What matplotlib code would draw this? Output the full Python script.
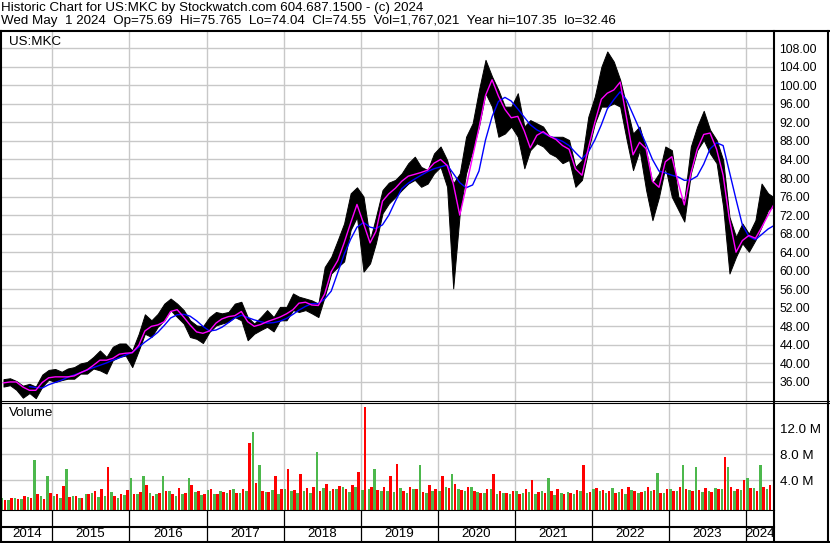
import matplotlib
matplotlib.use('Agg')
import matplotlib.pyplot as plt
import numpy as np
import pandas as pd

plt.rcParams['font.family'] = ['Liberation Sans', 'DejaVu Sans']

W, H = 830, 543
FS = 8.8
FS_TITLE = 9.6

# monthly data, May 2014 .. May 2024 (last entry is the single day May 1 2024)
month_start = pd.date_range('2014-05-01', '2024-05-01', freq='MS')

price_lo = [
    35.0, 35.3, 34.3, 32.6, 33.6, 32.5, 35.0, 36.5,
    36.0, 36.4, 36.7, 36.7, 37.8, 37.8, 38.9, 38.5, 37.8, 40.7, 41.4, 41.7,
    39.2, 42.8, 46.4, 45.7, 47.9, 49.3, 51.5, 50.0, 48.6, 45.7, 45.3, 44.4,
    46.8, 48.2, 48.6, 49.0, 50.0, 49.3, 45.0, 46.4, 47.2, 47.9, 46.9, 49.3,
    49.3, 51.5, 51.1, 51.5, 50.8, 50.0, 54.4, 59.4, 60.8, 62.0, 68.8, 71.6,
    59.8, 61.6, 66.0, 72.4, 74.5, 75.9, 77.4, 78.8, 79.6, 78.1, 78.8, 81.0,
    82.4, 78.1, 56.2, 72.4, 81.0, 86.0, 91.1, 98.3, 95.4, 88.9, 89.6, 91.1,
    88.9, 82.1, 86.0, 87.5, 86.8, 85.3, 84.6, 83.2, 83.9, 78.1, 79.6, 86.0,
    91.8, 95.4, 95.4, 96.1, 95.4, 88.2, 81.7, 86.0, 77.4, 70.9, 75.9, 82.4,
    75.9, 73.1, 70.6, 81.0, 86.0, 88.2, 85.3, 83.2, 73.8, 59.4, 63.0, 65.9,
    64.1, 66.6, 69.5, 73.1, 74.04,
]
price_hi = [
    36.6, 36.8, 36.2, 35.2, 35.6, 35.0, 37.6, 38.6,
    38.8, 38.2, 38.9, 39.2, 40.0, 40.3, 41.4, 42.8, 41.4, 43.6, 44.3, 44.3,
    42.8, 46.4, 50.6, 49.3, 50.7, 52.9, 54.0, 52.9, 51.5, 49.3, 48.2, 48.0,
    50.0, 51.1, 50.8, 51.1, 52.9, 53.3, 50.0, 48.6, 50.0, 51.5, 50.0, 52.2,
    52.2, 55.1, 54.4, 54.0, 53.6, 52.9, 60.8, 63.0, 66.6, 70.2, 76.7, 78.0,
    76.0, 66.6, 71.6, 77.4, 79.0, 79.6, 81.0, 83.2, 84.6, 82.4, 81.7, 85.3,
    86.8, 83.9, 78.8, 81.0, 88.9, 91.8, 99.0, 105.5, 101.9, 99.0, 95.4, 95.4,
    98.3, 91.1, 92.5, 91.8, 91.1, 88.9, 88.9, 88.9, 88.2, 82.4, 83.9, 93.2,
    97.6, 104.0, 107.3, 105.1, 101.2, 95.4, 89.6, 91.1, 86.0, 78.8, 81.0, 86.8,
    86.0, 75.9, 75.2, 86.8, 91.1, 94.5, 90.4, 88.2, 83.9, 71.6, 67.3, 70.2,
    68.0, 70.9, 78.8, 76.7, 75.77,
]
ma_fast = [
    35.8, 36.0, 36.0, 34.9, 34.2, 34.2, 35.9, 36.9,
    37.1, 37.1, 37.1, 37.3, 38.0, 38.6, 39.6, 40.7, 40.7, 41.1, 42.0, 42.2,
    42.3, 43.9, 47.0, 48.0, 48.3, 49.0, 51.2, 51.6, 50.0, 48.3, 46.8, 46.5,
    47.0, 48.7, 49.6, 50.1, 50.3, 51.2, 49.0, 48.0, 48.4, 49.0, 49.5, 50.0,
    50.7, 51.6, 53.0, 53.2, 52.6, 52.5, 55.0, 59.8, 62.2, 66.0, 70.3, 74.3,
    70.2, 66.0, 68.5, 75.0, 76.6, 77.8, 79.3, 80.4, 80.8, 81.2, 81.7, 83.2,
    84.0, 82.7, 78.8, 72.0, 78.0, 84.6, 90.8, 97.8, 101.2, 97.7, 94.8, 93.0,
    93.3, 90.1, 86.5, 89.2, 90.0, 89.0, 88.3, 87.0, 86.2, 82.0, 80.6, 86.4,
    92.0, 97.0, 98.3, 99.0, 100.7, 92.8, 85.0, 87.7, 86.3, 79.3, 78.0, 83.5,
    84.6, 78.8, 74.2, 81.0, 86.2, 89.4, 89.7, 86.2, 80.6, 71.0, 64.0, 66.5,
    67.6, 67.0, 69.3, 72.0, 74.5,
]
ma_slow = [
    np.nan, np.nan, np.nan, np.nan, 35.0, 34.8, 34.7, 35.4,
    35.9, 36.4, 37.0, 37.5, 38.0, 38.6, 39.1, 39.6, 40.1, 40.7, 41.2, 41.8,
    42.4, 43.5, 44.6, 45.6, 46.7, 48.2, 49.8, 50.5, 50.6, 50.2, 49.2, 48.0,
    47.0, 47.2, 47.8, 48.8, 49.8, 50.4, 49.9, 49.4, 49.0, 48.7, 48.8, 49.1,
    49.7, 50.6, 51.5, 52.3, 52.9, 52.9, 53.9, 55.6, 59.6, 63.5, 66.8, 69.4,
    70.4, 69.4, 69.1, 69.9, 72.0, 75.0, 77.7, 78.9, 79.8, 80.6, 81.4, 82.0,
    82.4, 82.8, 81.0, 79.0, 77.9, 78.5, 81.5, 88.2, 93.2, 96.5, 97.4, 96.6,
    94.9, 93.1, 91.5, 90.4, 89.7, 89.0, 88.5, 87.9, 87.0, 85.5, 84.1, 85.6,
    88.2, 91.5, 94.9, 96.9, 98.6, 96.8, 93.7, 90.5, 87.3, 84.0, 81.5, 81.1,
    80.6, 80.2, 79.5, 79.6, 80.4, 83.0, 86.3, 87.6, 87.0, 81.3, 75.4, 69.9,
    67.4, 66.7, 67.8, 69.0, 69.8,
]

# volume in millions, May 2014 .. Apr 2024: up-day and down-day bars per month
vol_up = [
    1.2, 1.0, 1.3, 1.1, 1.4, 7.2, 1.6, 4.7, 1.6, 1.3, 5.7, 1.5,
    1.2, 1.8, 2.0, 1.4, 1.5, 2.2, 1.3, 1.7, 4.3, 1.9, 4.6, 2.1,
    1.8, 4.7, 2.4, 1.6, 1.9, 4.4, 2.2, 1.7, 2.5, 1.9, 2.3, 2.0,
    2.6, 2.1, 2.4, 11.4, 6.4, 2.2, 2.5, 1.9, 2.7, 2.3, 2.0, 2.4,
    2.1, 8.3, 2.8, 2.4, 2.6, 3.0, 2.2, 2.9, 2.5, 2.6, 5.8, 2.3,
    2.4, 2.2, 2.8, 2.0, 2.6, 6.3, 2.1, 2.4, 2.3, 2.9, 5.0, 2.7,
    2.4, 2.9, 2.2, 2.0, 2.6, 1.9, 2.1, 1.8, 2.3, 2.0, 2.2, 1.9,
    2.4, 4.3, 1.7, 2.0, 2.2, 1.9, 2.3, 2.1, 2.6, 2.4, 2.0, 2.8,
    2.2, 1.9, 2.5, 2.1, 2.4, 2.3, 5.1, 2.0, 2.6, 2.3, 6.4, 2.5,
    6.1, 2.2, 2.4, 2.8, 2.6, 6.1, 2.4, 2.5, 4.4, 2.8, 6.4, 2.7,
]
vol_down = [
    1.0, 1.3, 1.1, 1.5, 1.2, 1.8, 1.1, 2.0, 1.8, 3.1, 1.4, 1.6,
    1.3, 1.9, 2.3, 2.6, 6.1, 1.5, 1.8, 2.5, 1.9, 2.2, 3.2, 1.6,
    2.0, 2.3, 1.8, 2.8, 2.1, 3.3, 2.4, 1.9, 2.6, 1.8, 2.2, 2.5,
    2.0, 2.7, 9.8, 3.6, 2.4, 2.2, 4.7, 2.6, 5.8, 2.5, 5.0, 2.8,
    2.9, 2.4, 3.4, 2.7, 3.1, 2.6, 3.3, 5.3, 15.3, 2.9, 2.5, 3.0,
    4.6, 6.5, 2.4, 3.0, 2.6, 2.2, 3.2, 2.7, 4.6, 2.8, 3.4, 2.5,
    2.9, 2.3, 2.1, 2.6, 5.0, 2.4, 2.0, 2.3, 1.9, 2.6, 4.1, 2.2,
    2.0, 2.3, 2.6, 1.8, 2.1, 2.5, 6.3, 2.2, 2.8, 2.5, 2.3, 2.0,
    2.6, 2.9, 2.4, 2.2, 3.0, 2.5, 2.1, 2.7, 2.3, 2.9, 2.6, 2.4,
    2.5, 2.8, 2.2, 2.7, 7.6, 2.9, 2.6, 4.1, 2.8, 2.4, 3.0, 3.3,
]

price_ticks = np.arange(36, 109, 4)
vol_ticks = [4, 8, 12]
vol_tick_labels = ['4.0 M', '8.0 M', '12.0 M']

title1 = 'Historic Chart for US:MKC by Stockwatch.com 604.687.1500 - (c) 2024'
title2 = ('Wed May  1 2024  Op=75.69  Hi=75.765  Lo=74.04  Cl=74.55  '
          'Vol=1,767,021  Year hi=107.35  lo=32.46')

fig = plt.figure(figsize=(W / 100, H / 100), dpi=100)


def px_axes(x0, y0, x1, y1, **kw):
    return fig.add_axes([x0 / W, 1 - y1 / H, (x1 - x0) / W, (y1 - y0) / H], **kw)


ax = px_axes(2, 32, 774, 400.5)
axv = px_axes(2, 403.5, 774, 510)
axd = px_axes(2, 510, 774, 541)

t0, t1 = pd.Timestamp('2014-05-08'), pd.Timestamp('2024-05-13')
years = pd.date_range('2015-01-01', '2024-01-01', freq='YS')
mid = month_start + pd.Timedelta(days=14)

for a in (ax, axv, axd):
    a.set_xlim(t0, t1)
    for s in a.spines.values():
        s.set_visible(False)

# price panel
ax.set_ylim(32.0, 111.5)
ax.set_yticks(price_ticks)
ax.set_yticklabels([f'{v:.2f}' for v in price_ticks])
ax.set_xticks(years)
ax.set_xticklabels([])
ax.yaxis.tick_right()
ax.tick_params(length=0, pad=4, labelsize=FS)
ax.grid(color='#c8c8c8', lw=1)
ax.set_axisbelow(True)
ax.fill_between(mid, price_lo, price_hi, color='black', lw=0.7)
ax.plot(mid, ma_slow, color='#0000ff', lw=1.0)
ax.plot(mid, ma_fast, color='#ff00ff', lw=1.0)
ax.text(7 / 772, 1 - 10 / 368.5, 'US:MKC', transform=ax.transAxes,
        fontsize=FS_TITLE, va='center', ha='left')

# volume panel
floor = -0.6
axv.set_ylim(floor, 15.85)
axv.set_yticks(vol_ticks)
axv.set_yticklabels(vol_tick_labels)
axv.set_xticks(years)
axv.set_xticklabels([])
axv.yaxis.tick_right()
axv.tick_params(length=0, pad=4, labelsize=FS_TITLE)
axv.grid(color='#c8c8c8', lw=1)
axv.set_axisbelow(True)
vs = month_start[:len(vol_up)]
up = np.array(vol_up)
dn = np.array(vol_down)
axv.bar(vs + pd.Timedelta(days=8), up - floor, bottom=floor, width=12,
        color='#4cb84c', lw=0)
axv.bar(vs + pd.Timedelta(days=22), dn - floor, bottom=floor, width=12,
        color='#ff0000', lw=0)
axv.text(7 / 772, 1 - 10 / 106.5, 'Volume', transform=axv.transAxes,
         fontsize=FS_TITLE, va='center', ha='left')

# date strip
axd.set_ylim(0, 1)
axd.set_xticks([])
axd.set_yticks([])
axd.patch.set_alpha(0)
for y in years:
    axd.axvline(y, color='black', lw=0.9)
edges = [t0] + list(years) + [t1]
for a_, b_ in zip(edges[:-1], edges[1:]):
    axd.text(a_ + (b_ - a_) / 2, 0.23, str(a_.year), ha='center', va='center',
             fontsize=FS_TITLE)

# outer frame and title, in pixel coordinates
fr = fig.add_axes([0, 0, 1, 1], zorder=10)
fr.set_xlim(0, W)
fr.set_ylim(H, 0)
fr.axis('off')
fr.patch.set_alpha(0)
fr.plot([0, 829], [31, 31], color='black', lw=1.5)
fr.plot([0.8, 0.8], [31, 542], color='black', lw=1.5)
fr.plot([828, 828], [31, 542], color='black', lw=1.5)
fr.plot([0, 829], [541.5, 541.5], color='black', lw=1.5)
fr.plot([774, 774], [31, 542], color='black', lw=1.5)
fr.plot([0, 829], [400.5, 400.5], color='black', lw=0.8)
fr.plot([0, 829], [403, 403], color='black', lw=0.8)
fr.plot([0, 774], [510, 510], color='black', lw=0.8)
fr.plot([0, 774], [527, 527], color='black', lw=1.5)
fr.text(1, 8, title1, fontsize=FS_TITLE, va='center', ha='left')
fr.text(1, 21, title2, fontsize=FS_TITLE, va='center', ha='left')

fig.savefig('out.png', dpi=100)
